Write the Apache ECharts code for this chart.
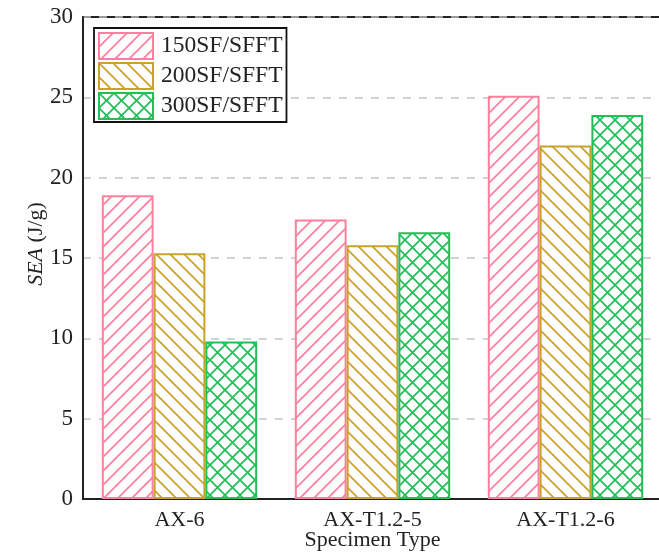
<!DOCTYPE html>
<html><head><meta charset="utf-8">
<script src="https://cdn.jsdelivr.net/npm/echarts@6/dist/echarts.min.js"></script>
<style>html,body{margin:0;padding:0;background:#fff}#c{width:659px;height:553px}</style>
</head><body><div id="c"></div>
<script>
const categories = ['AX-6', 'AX-T1.2-5', 'AX-T1.2-6'];
const seriesNames = ['150SF/SFFT', '200SF/SFFT', '300SF/SFFT'];
const sf150 = [18.9, 17.4, 25.1];
const sf200 = [15.3, 15.8, 22.0];
const sf300 = [9.8, 16.6, 23.9];
const yTicks = [0, 5, 10, 15, 20, 25, 30];

const colors = ['#ff7f9f', '#c9a22a', '#22bf58'];

function hatch(color, type, p) {
  const c = document.createElement('canvas');
  c.width = p; c.height = p;
  const g = c.getContext('2d');
  g.fillStyle = '#fff'; g.fillRect(0, 0, p, p);
  g.strokeStyle = color; g.lineWidth = 1.7;
  const fwd = () => { // "/"
    g.beginPath();
    g.moveTo(-1, p + 1); g.lineTo(p + 1, -1);
    g.moveTo(-1, 1); g.lineTo(1, -1);
    g.moveTo(p - 1, p + 1); g.lineTo(p + 1, p - 1);
    g.stroke();
  };
  const back = () => { // "\"
    g.beginPath();
    g.moveTo(-1, -1); g.lineTo(p + 1, p + 1);
    g.moveTo(p - 1, -1); g.lineTo(p + 1, 1);
    g.moveTo(-1, p - 1); g.lineTo(1, p + 1);
    g.stroke();
  };
  if (type === 'f') fwd();
  if (type === 'b') back();
  if (type === 'x') { fwd(); back(); }
  return c;
}

const pats = [hatch(colors[0], 'f', 14), hatch(colors[1], 'b', 14), hatch(colors[2], 'x', 15)];
const datas = [sf150, sf200, sf300];

const font = 'Liberation Serif, Times New Roman, serif';
const chart = echarts.init(document.getElementById('c'));
chart.setOption({
  animation: false,
  backgroundColor: '#fff',
  grid: { left: 83, top: 17, bottom: 54, right: -3, show: true, borderColor: '#222', borderWidth: 1.8,
    containLabel: false, outerBoundsMode: 'none' },
  legend: {
    left: 94, top: 28, orient: 'vertical', icon: 'rect',
    itemWidth: 54, itemHeight: 26, itemGap: 2,
    borderColor: '#111', borderWidth: 1.8, padding: [4, 4, 2, 4],
    textStyle: { fontFamily: font, fontSize: 23.5, lineHeight: 26, color: '#222', padding: [0, 0, 0, 3] },
    data: seriesNames
  },
  xAxis: {
    type: 'category', data: categories,
    axisLine: { lineStyle: { color: '#222', width: 1.8 } },
    axisTick: { show: false },
    axisLabel: { fontFamily: font, fontSize: 22, color: '#222', margin: 10 },
    name: 'Specimen Type', nameLocation: 'middle', nameGap: 30, nameMoveOverlap: false,
    nameTextStyle: { fontFamily: font, fontSize: 22, color: '#222' }
  },
  yAxis: {
    type: 'value', min: 0, max: 30, interval: 5,
    axisLine: { show: true, lineStyle: { color: '#222', width: 1.8 } },
    axisTick: { show: false },
    axisLabel: { fontFamily: font, fontSize: 23, color: '#222', margin: 10,
      formatter: v => yTicks.includes(v) ? String(v) : '' },
    splitLine: { show: true, lineStyle: { color: '#c4c4c4', width: 1.5, type: [8, 8] } },
    name: '{i|SEA} (J/g)', nameLocation: 'middle', nameGap: 36, nameRotate: 90, nameMoveOverlap: false,
    nameTextStyle: { fontFamily: font, fontSize: 22, color: '#222', padding: [0, 0, 0, 28],
      rich: { i: { fontFamily: font, fontSize: 22, fontStyle: 'italic', color: '#222' } } }
  },
  series: seriesNames.map((n, i) => ({
    name: n, type: 'bar', data: datas[i],
    barGap: '0%', barCategoryGap: '19.5%',
    itemStyle: { color: { image: pats[i], repeat: 'repeat' }, borderColor: colors[i], borderWidth: 2 }
  }))
});
</script></body></html>
